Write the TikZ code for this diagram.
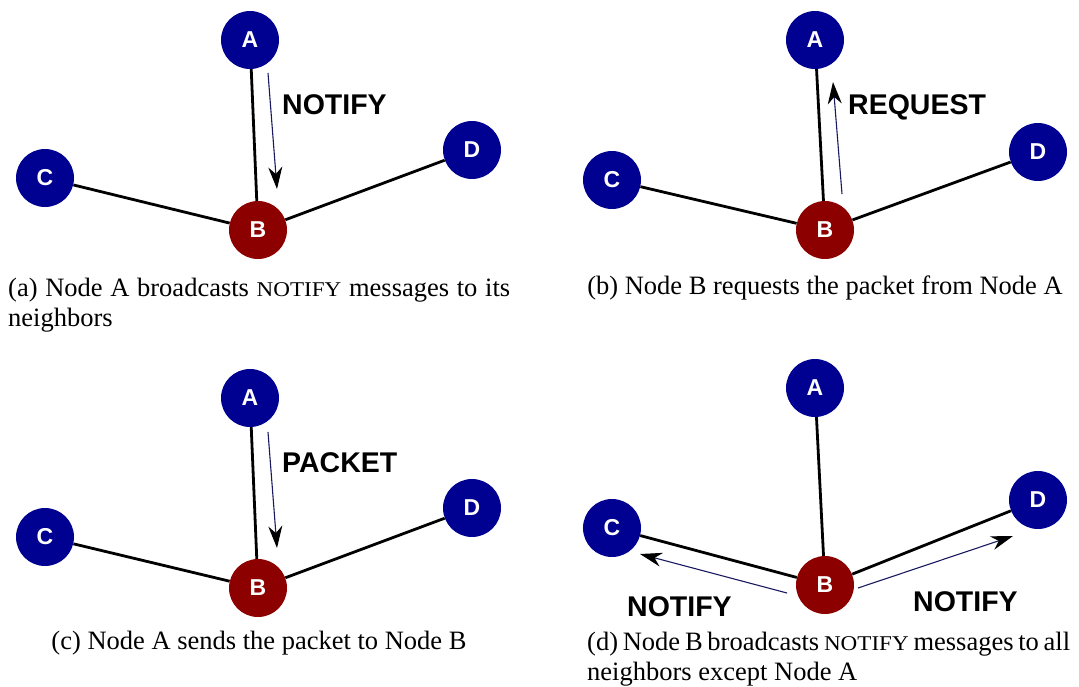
\documentclass[tikz,border=0pt]{standalone}
\usepackage{fontspec}
\setmainfont{Liberation Serif}
\newfontfamily\labelfont{Liberation Sans}
\newfontfamily\capsfont[FakeStretch=1.1]{Liberation Serif}
\usetikzlibrary{arrows.meta}

\definecolor{nodeblue}{RGB}{0,0,145}
\definecolor{nodered}{RGB}{140,0,0}
\definecolor{msgline}{RGB}{25,25,95}

% small capitals drawn as reduced, widened upper case
\newcommand{\scword}[1]{{\capsfont\fontsize{21}{21}\selectfont #1}}

\tikzset{
  peer/.style={circle, fill=nodeblue, minimum size=58pt, inner sep=0pt,
    text=white, font=\labelfont\bfseries\fontsize{23}{23}\selectfont},
  hub/.style={peer, fill=nodered},
  link/.style={line width=2.8pt},
  msg/.style={line width=1.1pt, draw=msgline,
    -{Stealth[length=22pt,width=14pt,inset=7pt,color=black]}},
  msglabel/.style={font=\labelfont\bfseries\fontsize{28.5}{28.5}\selectfont,
    inner sep=0pt, anchor=base west},
  caption/.style={font=\fontsize{26.5}{30}\selectfont, inner sep=0pt,
    align=left, anchor=base west},
}

\begin{document}
\begin{tikzpicture}[x=1pt, y=-1pt]
\useasboundingbox (0,0) rectangle (1079,686);

% ---------- (a) ----------
\node[peer] (aA) at (250,40)  {A};
\node[hub]  (aB) at (258,230) {B};
\node[peer] (aC) at (45,178)  {C};
\node[peer] (aD) at (472,150) {D};
\draw[link] (aA) -- (aB);
\draw[link] (aC) -- (aB);
\draw[link] (aD) -- (aB);
\coordinate (aS) at (268,73);
\coordinate (aT) at (277,189);
\draw[msg] (aS) -- (aT);
\node[msglabel] (aL) at (282,114) {NOTIFY};
\node[caption] (aCap) at (8,326) {\makebox[502pt][s]{(a) Node A broadcasts \scword{NOTIFY} messages to its}\\neighbors};

% ---------- (b) ----------
\node[peer] (bA) at (815,40)  {A};
\node[hub]  (bB) at (825,230) {B};
\node[peer] (bC) at (612,180) {C};
\node[peer] (bD) at (1038,152) {D};
\draw[link] (bA) -- (bB);
\draw[link] (bC) -- (bB);
\draw[link] (bD) -- (bB);
\coordinate (bS) at (842,194);
\coordinate (bT) at (833,82);
\draw[msg] (bS) -- (bT);
\node[msglabel] (bL) at (848,114) {REQUEST};
\node[caption, anchor=base] (bCap) at (825,294) {(b) Node B requests the packet from Node A};

% ---------- (c) ----------
\node[peer] (cA) at (250,398) {A};
\node[hub]  (cB) at (258,588) {B};
\node[peer] (cC) at (45,537)  {C};
\node[peer] (cD) at (472,508) {D};
\draw[link] (cA) -- (cB);
\draw[link] (cC) -- (cB);
\draw[link] (cD) -- (cB);
\coordinate (cS) at (268,432);
\coordinate (cT) at (277,548);
\draw[msg] (cS) -- (cT);
\node[msglabel] (cL) at (282,472) {PACKET};
\node[caption, anchor=base] (cCap) at (259,649) {(c) Node A sends the packet to Node B};

% ---------- (d) ----------
\node[peer] (dA) at (815,388) {A};
\node[hub]  (dB) at (825,585) {B};
\node[peer] (dC) at (612,528) {C};
\node[peer] (dD) at (1038,500) {D};
\draw[link] (dA) -- (dB);
\draw[link] (dC) -- (dB);
\draw[link] (dD) -- (dB);
\coordinate (dS1) at (787,593);
\coordinate (dT1) at (640,554);
\draw[msg] (dS1) -- (dT1);
\coordinate (dS2) at (858,588);
\coordinate (dT2) at (1013,536);
\draw[msg] (dS2) -- (dT2);
\node[msglabel] (dL1) at (627,616) {NOTIFY};
\node[msglabel] (dL2) at (913,611) {NOTIFY};
\node[caption] (dCap) at (587,680) {\makebox[483pt][s]{(d) Node B broadcasts \scword{NOTIFY} messages to all}\\neighbors except Node A};
\end{tikzpicture}
\end{document}
